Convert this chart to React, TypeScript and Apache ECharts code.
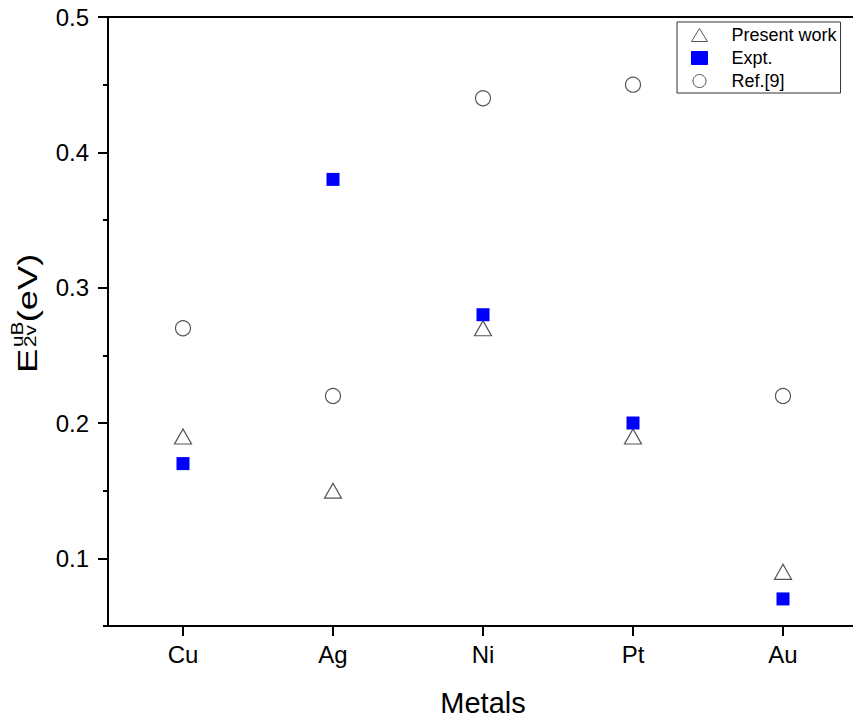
import React, { useEffect, useRef } from "react";
import * as echarts from "echarts";

const metals = ["Cu", "Ag", "Ni", "Pt", "Au"];
const presentWork = [0.19, 0.15, 0.27, 0.19, 0.09];
const expt = [0.17, 0.38, 0.28, 0.2, 0.07];
const ref9 = [0.27, 0.22, 0.44, 0.45, 0.22];
const yTickLabels = ["0.05", "0.1", "0.15", "0.2", "0.25", "0.3", "0.35", "0.4", "0.45", "0.5"];
const seriesNames = ["Present work", "Expt.", "Ref.[9]"];

const FONT = "'Liberation Sans', Arial, Helvetica, sans-serif";

export default function App() {
  const ref = useRef<HTMLDivElement>(null);
  useEffect(() => {
    if (!ref.current) return;
    const chart = echarts.init(ref.current, null, { renderer: "svg" });
    const isMajor = (i: number) => i % 2 === 1;
    chart.setOption({
      animation: false,
      backgroundColor: "#ffffff",
      textStyle: { fontFamily: FONT },
      grid: { left: 108, top: 17, width: 750, height: 609, containLabel: false, outerBoundsMode: "none" },
      xAxis: [
        {
          type: "category",
          data: metals,
          boundaryGap: true,
          axisLine: { show: true, lineStyle: { color: "#000", width: 2 } },
          axisTick: { show: true, alignWithLabel: true, length: 10, lineStyle: { color: "#000", width: 2 } },
          axisLabel: { fontSize: 24, color: "#000", margin: 16, fontFamily: FONT },
          splitLine: { show: false },
          name: "Metals",
          nameLocation: "middle",
          nameGap: 62,
          nameTextStyle: { fontSize: 29, color: "#000", fontFamily: FONT },
        },
        {
          type: "category",
          data: metals,
          position: "top",
          axisLine: { show: true, lineStyle: { color: "#000", width: 2 } },
          axisTick: { show: false },
          axisLabel: { show: false },
          splitLine: { show: false },
        },
      ],
      yAxis: [
        {
          type: "value",
          min: 0.05,
          max: 0.5,
          interval: 0.05,
          axisLine: { show: true, lineStyle: { color: "#000", width: 2 } },
          axisTick: { show: true, length: 5, lineStyle: { color: "#000", width: 2 } },
          axisLabel: { show: false },
          splitLine: { show: false },
        },
        {
          type: "category",
          data: yTickLabels,
          boundaryGap: false,
          position: "left",
          axisLine: { show: false },
          axisTick: { show: true, length: 10, interval: (i: number) => isMajor(i), lineStyle: { color: "#000", width: 2 } },
          axisLabel: { show: true, interval: (i: number) => isMajor(i), fontSize: 24, color: "#000", margin: 19, fontFamily: FONT },
          splitLine: { show: false },
        },
      ],
      legend: {
        data: seriesNames,
        orient: "vertical",
        left: 677,
        top: 22,
        padding: [4, 4, 3, 14],
        itemWidth: 16,
        itemHeight: 13,
        itemGap: 5,
        borderColor: "#333",
        borderWidth: 1,
        align: "left",
        itemStyle: { borderWidth: 1 },
        textStyle: { fontSize: 18, color: "#000", fontFamily: FONT, padding: [0, 0, 0, 19] },
      },
      graphic: [
        {
          type: "group",
          x: 37,
          y: 373,
          rotation: Math.PI / 2,
          scaleX: 1.3,
          children: [
            { type: "text", x: 0, y: -9.7, style: { text: "E", fontSize: 28, fontFamily: FONT, fill: "#000", textAlign: "left", verticalAlign: "middle" } },
            { type: "text", x: 20, y: -19.5, style: { text: "uB", fontSize: 16, fontFamily: FONT, fill: "#000", textAlign: "left", verticalAlign: "middle" } },
            { type: "text", x: 20, y: -6.5, style: { text: "2v", fontSize: 16, fontFamily: FONT, fill: "#000", textAlign: "left", verticalAlign: "middle" } },
            { type: "text", x: 39, y: -9.7, style: { text: "(eV)", fontSize: 28, fontFamily: FONT, fill: "#000", textAlign: "left", verticalAlign: "middle" } },
          ],
        },
      ],
      series: [
        {
          name: seriesNames[0],
          type: "scatter",
          xAxisIndex: 0,
          yAxisIndex: 0,
          data: presentWork,
          symbol: "triangle",
          symbolSize: [17, 15],
          itemStyle: { color: "rgba(255,255,255,0)", borderColor: "#555", borderWidth: 1.2, opacity: 1 },
          z: 3,
        },
        {
          name: seriesNames[1],
          type: "scatter",
          xAxisIndex: 0,
          yAxisIndex: 0,
          data: expt,
          symbol: "rect",
          symbolSize: 13,
          itemStyle: { color: "#0000ff", borderColor: "#0000ff", borderWidth: 0, opacity: 1 },
          z: 4,
        },
        {
          name: seriesNames[2],
          type: "scatter",
          xAxisIndex: 0,
          yAxisIndex: 0,
          data: ref9,
          symbol: "circle",
          symbolSize: 15,
          itemStyle: { color: "rgba(255,255,255,0)", borderColor: "#555", borderWidth: 1.2, opacity: 1 },
          z: 3,
        },
      ],
    });
    return () => chart.dispose();
  }, []);
  return <div ref={ref} style={{ position: "absolute", left: 0, top: 0, width: 853, height: 722 }} />;
}
